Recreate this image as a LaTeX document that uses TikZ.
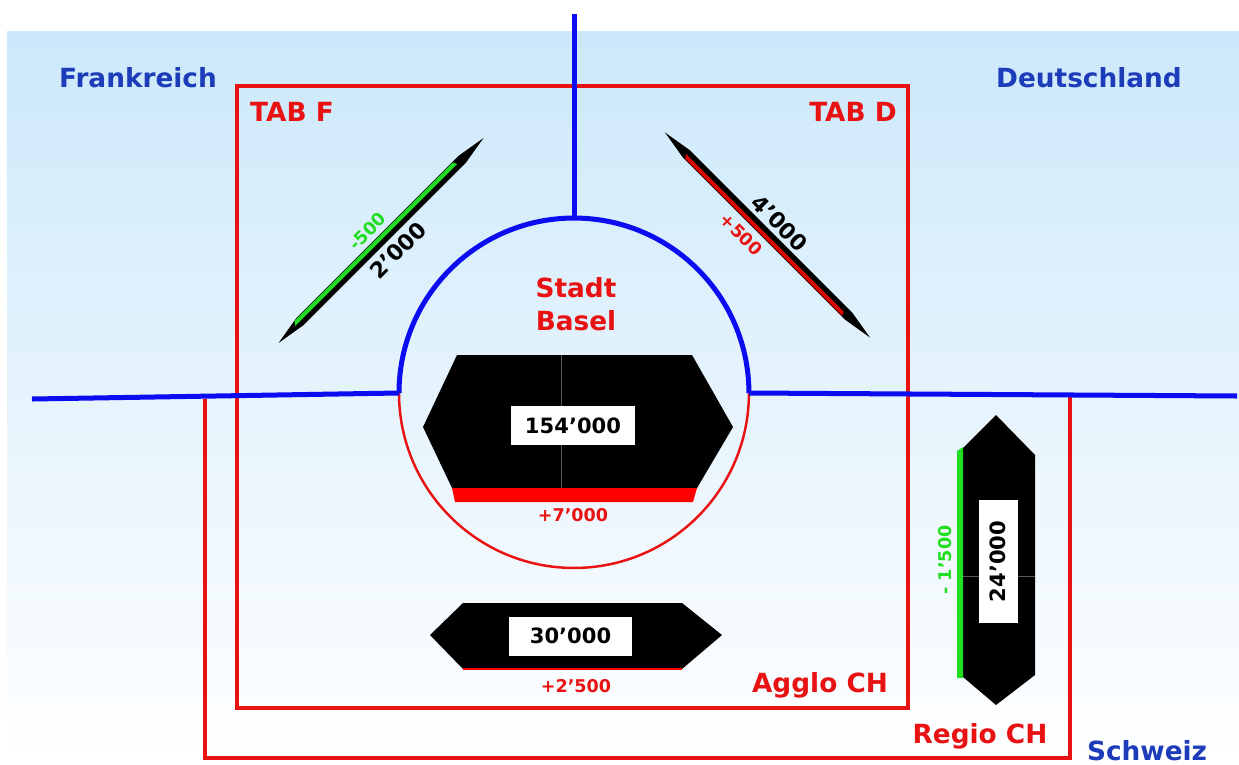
\documentclass[tikz,border=0pt]{standalone}
\usepackage{fontspec}
\setmainfont{DejaVu Sans}
\usepackage{xcolor}
\usepackage{tikz}

\definecolor{landblue}{RGB}{28,60,185}
\definecolor{borderblue}{RGB}{12,12,240}
\definecolor{zonered}{RGB}{232,18,18}
\definecolor{lossgreen}{RGB}{34,222,34}
\definecolor{skyblue}{RGB}{204,232,250}

\begin{document}
\begin{tikzpicture}[x=0.02cm, y=-0.02cm,
        land/.style={font=\bfseries\fontsize{15}{18}\selectfont, text=landblue},
        zone/.style={font=\bfseries\fontsize{15}{18.5}\selectfont, text=zonered, align=center},
        numbox/.style={fill=white, inner sep=0pt, minimum width=2.48cm, minimum height=0.78cm, font=\bfseries\fontsize{12}{14}\selectfont},
        diagnum/.style={inner sep=0pt, font=\bfseries\fontsize{12.5}{14}\selectfont},
        gain/.style={inner sep=0pt, font=\bfseries\fontsize{10}{12}\selectfont, text=zonered},
        loss/.style={inner sep=0pt, font=\bfseries\fontsize{10}{12}\selectfont, text=lossgreen},
        border/.style={borderblue, line width=2.85pt},
        zonebox/.style={zonered, line width=2.3pt},
        seam/.style={black!65, line width=0.3pt}
    ]
        \useasboundingbox (0,0) rectangle (1239,764);
        \shade[top color=skyblue, bottom color=white] (7,31) rectangle (1239,764);

        % zones
        \draw[zonebox] (237,86) rectangle (908,708);
        \draw[zonebox] (205,399) -- (205,758) -- (1070,758) -- (1070,396);

        % borders and city
        \coordinate (wend) at (32,399);
        \coordinate (eend) at (1237,396);
        \coordinate (nend) at (574,14);
        \coordinate (wjunc) at (399,393);
        \coordinate (ejunc) at (749,393);
        \coordinate (njunc) at (574,218);
        \draw[zonered, line width=1.4pt] (wjunc) arc[start angle=180, end angle=360, radius=3.5cm];
        \draw[border] (wjunc) arc[start angle=180, end angle=0, radius=3.5cm];
        \draw[border] (wend) -- (wjunc);
        \draw[border] (ejunc) -- (eend);
        \draw[border] (nend) -- (njunc);

        % Stadt Basel
        \fill (423,427) -- (457,355) -- (692,355) -- (733,427) -- (697,488) -- (452,488) -- cycle;
        \fill[red] (452,488) -- (697,488) -- (693,502) -- (455,502) -- cycle;
        \draw[seam] (561,355) -- (561,488);
        \node[numbox] (stadtnum) at (573,425.5) {154'000};
        \node[gain] (stadtgain) at (573,515) {+7'000};

        % Agglo CH
        \fill (430,635) -- (463,603) -- (682,603) -- (722,635) -- (682,669) -- (463,669) -- cycle;
        \fill[red] (463,667.5) rectangle (682,670);
        \node[numbox] (agglonum) at (570.5,636) {30'000};
        \node[gain] (agglogain) at (576,686) {+2'500};

        % Regio CH
        \fill (996,415) -- (1035,455) -- (1035,675) -- (996,705) -- (963,677) -- (963,448) -- cycle;
        \fill[lossgreen] (957,451) -- (963,447) -- (963,678) -- (957,678) -- cycle;
        \draw[seam] (963,576) -- (1035,576);
        \node[numbox, rotate=90] (regionum) at (998,561.5) {24'000};
        \node[loss, rotate=90] (regioloss) at (945,560) {- 1'500};

        % TAB F
        \begin{scope}[shift={(381,240.5)}, rotate=45]
            \fill (-145,0) -- (-115,-5) -- (115,-5) -- (145,0) -- (115,5) -- (-115,5) -- cycle;
            \fill[lossgreen] (-118,-4.4) -- (106,-4.4) -- (108,-0.3) -- (-121,-0.3) -- cycle;
            \node[diagnum, rotate=45] (tabfnum) at (5,19) {2'000};
            \node[loss, rotate=45] (tabfloss) at (-3,-16) {-500};
        \end{scope}

        % TAB D
        \begin{scope}[shift={(767.5,235)}, rotate=-45]
            \fill (-145,0) -- (-115,-5) -- (115,-5) -- (145,0) -- (115,5) -- (-115,5) -- cycle;
            \fill[red!85!black] (-115,0.3) -- (108,0.3) -- (110,4.4) -- (-112,4.4) -- cycle;
            \node[diagnum, rotate=-45] (tabdnum) at (0,-17) {4'000};
            \node[gain, rotate=-45] (tabdgain) at (-19,18) {+500};
        \end{scope}

        % labels
        \node[land] (frankreich) at (138,78) {Frankreich};
        \node[land] (deutschland) at (1089,78) {Deutschland};
        \node[land] (schweiz) at (1147,751) {Schweiz};
        \node[zone] (tabf) at (292,112) {TAB F};
        \node[zone] (tabd) at (853,112) {TAB D};
        \node[zone] (stadt) at (576,304) {Stadt\\Basel};
        \node[zone] (agglo) at (820,685) {Agglo CH};
        \node[zone] (regio) at (980,736) {Regio CH};
    \end{tikzpicture}
\end{document}
